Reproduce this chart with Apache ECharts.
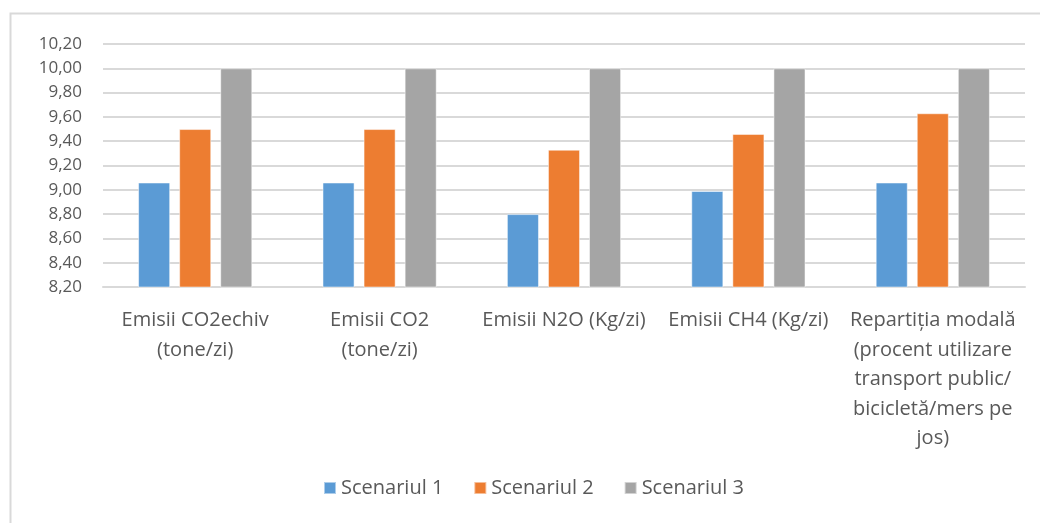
<!DOCTYPE html>
<html>
<head>
<meta charset="utf-8">
<script src="https://cdn.jsdelivr.net/npm/echarts@6/dist/echarts.min.js"></script>
<style>
html,body{margin:0;padding:0;background:#fff;}
#c{width:1040px;height:523px;}
</style>
</head>
<body>
<div id="c"></div>
<script>
const categories = [
  "Emisii CO2echiv\n(tone/zi)",
  "Emisii CO2\n(tone/zi)",
  "Emisii N2O (Kg/zi)",
  "Emisii CH4 (Kg/zi)",
  "Repartiția modală\n(procent utilizare\ntransport public/\nbicicletă/mers pe\njos)"
];
const seriesNames = ["Scenariul 1", "Scenariul 2", "Scenariul 3"];
const scenariul1 = [9.06, 9.06, 8.80, 8.99, 9.06];
const scenariul2 = [9.50, 9.50, 9.33, 9.46, 9.63];
const scenariul3 = [10.00, 10.00, 10.00, 10.00, 10.00];
const colors = ["#5b9bd5", "#ed7d31", "#a5a5a5"];
const yMin = 8.2, yMax = 10.2, yStep = 0.2;

const chart = echarts.init(document.getElementById('c'), null, {renderer: 'canvas'});
const font = "'Open Sans', sans-serif";
const data = [scenariul1, scenariul2, scenariul3];
chart.setOption({
  animation: false,
  backgroundColor: '#fff',
  graphic: [{
    type: 'polyline',
    shape: {points: [[10.5, 523], [10.5, 13.5], [1040, 13.5]]},
    style: {stroke: '#d9d9d9', lineWidth: 2, fill: null},
    silent: true
  }],
  grid: {left: 103, right: 15, top: 44, bottom: 236, containLabel: false},
  legend: {
    data: seriesNames,
    bottom: 20,
    left: 318,
    itemWidth: 12,
    itemHeight: 12,
    itemGap: 30,
    icon: 'rect',
    textStyle: {color: '#595959', fontSize: 20, fontFamily: font}
  },
  xAxis: {
    type: 'category',
    data: categories,
    axisLine: {show: true, lineStyle: {color: '#d9d9d9', width: 2}},
    axisTick: {show: false},
    axisLabel: {
      interval: 0,
      color: '#595959',
      fontSize: 20,
      fontFamily: font,
      lineHeight: 29.5,
      margin: 19,
      align: 'center'
    }
  },
  yAxis: {
    type: 'value',
    min: yMin,
    max: yMax,
    interval: yStep,
    axisLine: {show: false},
    axisTick: {show: false},
    splitLine: {lineStyle: {color: '#d9d9d9', width: 2}},
    axisLabel: {
      color: '#595959',
      fontSize: 17,
      fontFamily: font,
      margin: 21,
      formatter: v => v.toFixed(2).replace('.', ',')
    }
  },
  series: seriesNames.map((n, i) => ({
    name: n,
    type: 'bar',
    data: data[i],
    barWidth: '17.4%',
    barGap: '28%',
    itemStyle: {color: colors[i], borderColor: 'rgba(255,255,255,0.5)', borderWidth: 1}
  }))
});
</script>
</body>
</html>
